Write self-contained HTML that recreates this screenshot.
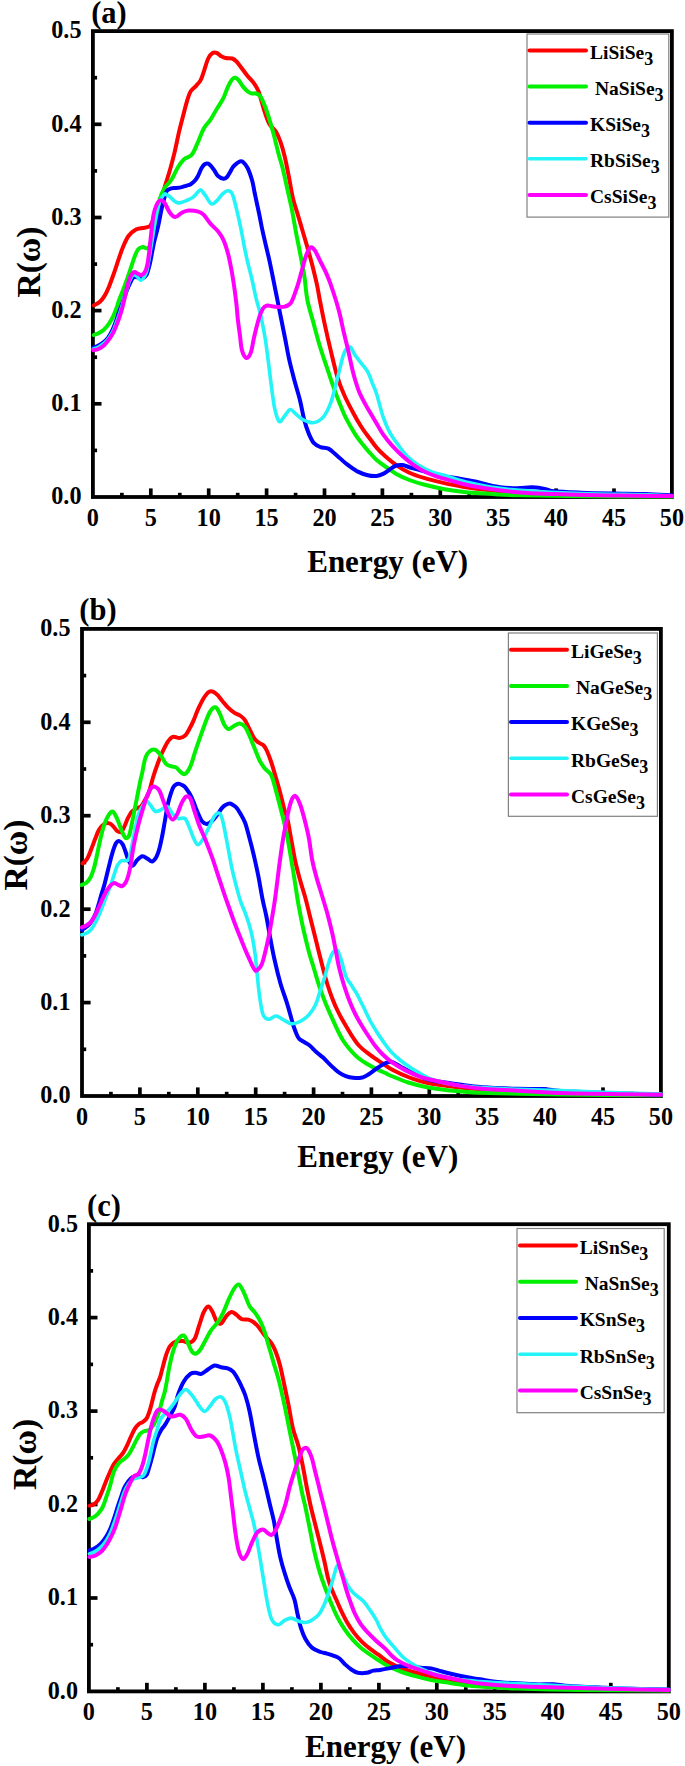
<!DOCTYPE html>
<html><head><meta charset="utf-8"><style>
html,body{margin:0;padding:0;background:#fff;}
body{width:685px;height:1766px;overflow:hidden;}
svg{display:block;}
text{font-family:"Liberation Serif",serif;font-weight:bold;fill:#000;}
.tk{font-size:24.2px;}
.ti{font-size:31px;}
.rt{font-size:33.5px;}
.pl{font-size:30.5px;}
.lg{font-size:19.5px;}
.sub{font-size:18px;}
</style></head><body>
<svg width="685" height="1766" viewBox="0 0 685 1766">
<rect x="92.9" y="31.1" width="579.0" height="465.9" fill="none" stroke="#000" stroke-width="3.8"/>
<line x1="121.9" y1="497.0" x2="121.9" y2="492.8" stroke="#000" stroke-width="3.7"/>
<line x1="150.8" y1="497.0" x2="150.8" y2="488.4" stroke="#000" stroke-width="3.7"/>
<line x1="179.8" y1="497.0" x2="179.8" y2="492.8" stroke="#000" stroke-width="3.7"/>
<line x1="208.7" y1="497.0" x2="208.7" y2="488.4" stroke="#000" stroke-width="3.7"/>
<line x1="237.7" y1="497.0" x2="237.7" y2="492.8" stroke="#000" stroke-width="3.7"/>
<line x1="266.6" y1="497.0" x2="266.6" y2="488.4" stroke="#000" stroke-width="3.7"/>
<line x1="295.6" y1="497.0" x2="295.6" y2="492.8" stroke="#000" stroke-width="3.7"/>
<line x1="324.5" y1="497.0" x2="324.5" y2="488.4" stroke="#000" stroke-width="3.7"/>
<line x1="353.5" y1="497.0" x2="353.5" y2="492.8" stroke="#000" stroke-width="3.7"/>
<line x1="382.4" y1="497.0" x2="382.4" y2="488.4" stroke="#000" stroke-width="3.7"/>
<line x1="411.4" y1="497.0" x2="411.4" y2="492.8" stroke="#000" stroke-width="3.7"/>
<line x1="440.3" y1="497.0" x2="440.3" y2="488.4" stroke="#000" stroke-width="3.7"/>
<line x1="469.2" y1="497.0" x2="469.2" y2="492.8" stroke="#000" stroke-width="3.7"/>
<line x1="498.2" y1="497.0" x2="498.2" y2="488.4" stroke="#000" stroke-width="3.7"/>
<line x1="527.1" y1="497.0" x2="527.1" y2="492.8" stroke="#000" stroke-width="3.7"/>
<line x1="556.1" y1="497.0" x2="556.1" y2="488.4" stroke="#000" stroke-width="3.7"/>
<line x1="585.0" y1="497.0" x2="585.0" y2="492.8" stroke="#000" stroke-width="3.7"/>
<line x1="614.0" y1="497.0" x2="614.0" y2="488.4" stroke="#000" stroke-width="3.7"/>
<line x1="642.9" y1="497.0" x2="642.9" y2="492.8" stroke="#000" stroke-width="3.7"/>
<line x1="92.9" y1="450.4" x2="97.1" y2="450.4" stroke="#000" stroke-width="3.7"/>
<line x1="92.9" y1="403.8" x2="101.5" y2="403.8" stroke="#000" stroke-width="3.7"/>
<line x1="92.9" y1="357.2" x2="97.1" y2="357.2" stroke="#000" stroke-width="3.7"/>
<line x1="92.9" y1="310.6" x2="101.5" y2="310.6" stroke="#000" stroke-width="3.7"/>
<line x1="92.9" y1="264.1" x2="97.1" y2="264.1" stroke="#000" stroke-width="3.7"/>
<line x1="92.9" y1="217.5" x2="101.5" y2="217.5" stroke="#000" stroke-width="3.7"/>
<line x1="92.9" y1="170.9" x2="97.1" y2="170.9" stroke="#000" stroke-width="3.7"/>
<line x1="92.9" y1="124.3" x2="101.5" y2="124.3" stroke="#000" stroke-width="3.7"/>
<line x1="92.9" y1="77.7" x2="97.1" y2="77.7" stroke="#000" stroke-width="3.7"/>
<clipPath id="clipa"><rect x="90.9" y="31.1" width="583.0" height="467.4"/></clipPath>
<g clip-path="url(#clipa)" fill="none" stroke-linejoin="round" stroke-linecap="round">
<path d="M93.8,305.4 C94.8,304.8 97.9,303.4 99.7,301.9 C101.5,300.3 102.9,298.6 104.4,296.1 C106.0,293.6 107.5,290.4 109.0,286.7 C110.5,283.0 112.1,278.4 113.7,273.9 C115.3,269.4 116.9,264.4 118.4,259.9 C120.0,255.4 121.3,251.0 123.0,247.0 C124.7,243.0 126.4,238.9 128.5,236.0 C130.6,233.1 133.2,231.0 135.5,229.7 C137.8,228.4 140.6,228.4 142.6,228.0 C144.6,227.6 146.2,227.5 147.5,227.0 C148.8,226.5 149.2,227.5 150.6,225.2 C152.0,222.9 154.3,217.4 156.0,213.0 C157.7,208.6 159.3,204.0 161.0,199.0 C162.7,194.0 164.3,188.3 165.9,183.1 C167.5,177.9 169.1,173.1 170.5,168.0 C171.9,162.9 173.1,158.4 174.5,152.6 C175.9,146.8 177.4,139.1 178.8,132.9 C180.2,126.7 181.8,120.9 183.2,115.4 C184.6,109.9 186.1,104.1 187.3,100.1 C188.6,96.1 189.2,93.7 190.7,91.3 C192.2,88.9 194.5,87.6 196.1,85.8 C197.7,84.0 199.2,82.8 200.5,80.4 C201.8,78.0 202.5,75.2 203.8,71.6 C205.1,67.9 206.7,61.6 208.2,58.5 C209.7,55.4 211.1,53.9 212.6,53.0 C214.1,52.1 215.4,52.5 216.9,53.0 C218.4,53.5 219.8,55.5 221.3,56.3 C222.8,57.1 223.9,57.6 225.7,58.0 C227.5,58.4 230.5,57.9 232.3,58.5 C234.1,59.1 235.2,60.2 236.6,61.7 C238.0,63.2 239.2,64.8 241.0,67.2 C242.8,69.6 245.4,73.3 247.6,76.0 C249.8,78.7 252.4,81.0 254.2,83.6 C256.0,86.1 257.2,88.2 258.5,91.3 C259.8,94.4 260.7,98.6 261.8,102.3 C262.9,106.0 263.8,109.5 265.1,113.2 C266.4,116.9 267.7,121.1 269.5,124.2 C271.3,127.3 274.2,128.9 276.0,131.8 C277.8,134.7 278.9,137.5 280.4,141.7 C281.9,145.9 283.4,151.2 284.8,157.0 C286.2,162.8 287.4,169.3 288.8,176.3 C290.2,183.3 291.5,192.4 293.1,199.0 C294.7,205.6 296.5,210.2 298.2,216.0 C299.9,221.8 301.8,228.1 303.4,233.7 C305.0,239.3 306.5,244.1 308.0,249.5 C309.5,254.9 311.0,259.9 312.5,266.0 C314.0,272.1 316.0,280.1 317.2,285.8 C318.4,291.5 318.6,294.0 319.8,300.0 C321.0,306.0 322.4,313.5 324.2,321.9 C326.0,330.3 328.5,341.3 330.7,350.4 C332.9,359.5 335.1,369.3 337.3,376.6 C339.5,383.9 341.3,388.4 343.9,394.2 C346.4,400.0 349.7,406.2 352.6,411.7 C355.5,417.2 358.5,422.4 361.4,427.0 C364.3,431.6 367.6,435.6 370.1,439.0 C372.6,442.4 374.1,444.7 376.6,447.6 C379.1,450.5 382.0,453.4 385.3,456.3 C388.6,459.2 392.3,462.4 396.3,465.1 C400.3,467.9 404.7,470.6 409.4,472.8 C414.1,475.0 419.2,476.6 424.7,478.2 C430.2,479.8 435.7,481.1 442.3,482.6 C448.9,484.1 456.2,485.7 464.2,487.0 C472.2,488.3 481.1,489.4 490.4,490.3 C499.7,491.2 508.4,491.9 520.0,492.5 C531.6,493.1 546.7,493.6 560.0,494.0 C573.3,494.4 586.7,494.8 600.0,495.0 C613.3,495.2 628.0,495.3 640.0,495.5 C652.0,495.7 666.7,495.9 672.0,496.0" stroke="#ff0000" stroke-width="4.0"/>
<path d="M93.7,335.0 C94.5,334.7 96.8,334.2 98.5,333.3 C100.2,332.4 102.0,331.4 103.8,329.8 C105.5,328.2 107.4,325.9 109.0,323.6 C110.6,321.3 112.1,318.6 113.4,315.8 C114.7,313.0 116.0,309.6 116.9,307.0 C117.9,304.4 118.1,302.8 119.1,300.0 C120.1,297.2 121.6,294.0 123.0,290.2 C124.4,286.4 126.3,281.3 127.7,277.4 C129.1,273.5 130.0,270.4 131.2,266.9 C132.4,263.4 133.5,259.3 134.7,256.4 C135.9,253.5 136.8,250.9 138.2,249.3 C139.6,247.7 141.5,247.2 142.9,247.0 C144.3,246.8 145.2,248.5 146.4,248.2 C147.6,247.9 148.6,248.9 150.0,245.0 C151.4,241.1 153.4,232.7 155.0,225.0 C156.6,217.3 158.1,205.2 159.8,198.9 C161.5,192.7 163.4,190.3 165.0,187.5 C166.6,184.7 168.1,184.1 169.4,182.3 C170.7,180.6 171.7,179.4 173.0,177.0 C174.3,174.6 175.7,171.0 177.5,168.0 C179.3,165.0 181.7,161.4 184.1,159.2 C186.5,157.0 189.5,157.4 191.7,154.8 C193.9,152.2 195.2,148.3 197.2,143.9 C199.2,139.5 201.6,132.5 203.8,128.5 C206.0,124.5 208.2,123.1 210.4,119.8 C212.6,116.5 214.7,112.4 216.9,108.8 C219.1,105.2 221.7,101.6 223.5,97.9 C225.3,94.2 226.4,90.0 227.9,86.9 C229.4,83.8 231.0,80.8 232.3,79.3 C233.6,77.8 234.4,77.5 235.5,77.7 C236.6,77.9 237.5,78.9 238.8,80.4 C240.1,81.9 241.7,85.1 243.2,86.9 C244.7,88.7 246.1,90.2 247.6,91.3 C249.1,92.4 250.6,93.1 252.0,93.5 C253.4,93.9 254.9,93.0 256.3,93.5 C257.8,94.0 259.2,94.6 260.7,96.8 C262.2,99.0 263.6,102.8 265.1,106.6 C266.6,110.4 268.0,115.0 269.5,119.8 C271.0,124.5 272.4,129.6 273.9,135.1 C275.3,140.6 276.8,147.1 278.2,152.6 C279.6,158.1 281.1,162.1 282.6,167.9 C284.1,173.7 285.5,180.9 287.0,187.5 C288.5,194.1 289.9,199.9 291.4,207.2 C292.9,214.5 294.4,223.6 295.8,231.3 C297.2,239.0 298.7,245.5 300.1,253.2 C301.6,260.9 303.3,269.5 304.5,277.3 C305.7,285.1 305.9,292.6 307.4,300.0 C308.8,307.4 311.1,314.2 313.2,321.9 C315.3,329.6 317.6,338.7 319.8,346.0 C322.0,353.3 324.1,359.1 326.3,365.7 C328.5,372.3 330.7,379.2 332.9,385.4 C335.1,391.6 337.3,397.4 339.5,402.9 C341.7,408.4 343.4,413.1 346.0,418.2 C348.6,423.3 351.9,429.0 354.8,433.6 C357.7,438.2 361.1,442.4 363.6,445.6 C366.1,448.8 367.8,450.6 370.0,453.0 C372.2,455.4 374.1,457.8 376.6,460.0 C379.2,462.2 382.0,464.2 385.3,466.5 C388.6,468.8 392.3,471.6 396.3,473.9 C400.3,476.1 404.7,478.2 409.4,480.0 C414.1,481.8 418.9,483.3 424.7,484.8 C430.5,486.3 437.1,487.9 444.4,489.2 C451.7,490.5 460.5,491.7 468.5,492.5 C476.5,493.3 484.0,493.5 492.6,494.0 C501.2,494.5 502.1,494.9 520.0,495.3 C537.9,495.7 574.7,496.2 600.0,496.5 C625.3,496.8 660.0,496.9 672.0,497.0" stroke="#00f000" stroke-width="4.0"/>
<path d="M93.3,347.7 C94.2,347.3 96.8,346.4 98.5,345.5 C100.2,344.6 102.2,343.3 103.8,342.0 C105.4,340.7 106.6,339.7 108.1,337.7 C109.5,335.7 111.2,332.6 112.5,329.8 C113.8,327.0 114.8,324.2 116.0,321.0 C117.2,317.8 118.2,314.0 119.5,310.5 C120.8,307.0 122.2,303.4 123.5,300.0 C124.8,296.6 125.9,292.8 127.0,290.0 C128.1,287.2 128.9,285.3 130.0,283.2 C131.1,281.1 132.1,278.4 133.5,277.4 C134.9,276.4 136.8,277.2 138.2,277.4 C139.6,277.6 140.3,278.9 141.7,278.5 C143.1,278.1 145.0,277.5 146.4,275.0 C147.8,272.5 148.9,267.3 149.9,263.4 C150.9,259.5 151.4,255.6 152.2,251.7 C153.0,247.8 153.6,244.1 154.6,240.0 C155.6,235.9 156.8,232.0 158.0,226.9 C159.2,221.8 160.5,214.1 161.5,209.4 C162.5,204.7 163.2,202.0 164.1,198.9 C165.0,195.8 165.6,192.8 166.8,191.0 C168.0,189.2 169.7,188.9 171.2,188.4 C172.7,187.9 174.2,188.2 176.0,188.0 C177.8,187.8 180.2,187.5 181.9,187.1 C183.6,186.7 184.5,186.3 186.0,185.8 C187.5,185.3 189.2,185.1 190.7,184.2 C192.2,183.3 193.8,181.9 195.0,180.5 C196.2,179.1 196.9,178.1 198.0,176.0 C199.1,173.9 200.4,170.0 201.6,168.0 C202.8,166.0 203.9,164.7 205.0,164.0 C206.1,163.3 207.2,163.3 208.2,163.6 C209.2,163.9 209.9,164.8 211.0,166.0 C212.1,167.2 213.5,169.3 214.7,171.0 C215.9,172.7 216.5,174.7 218.0,176.0 C219.5,177.3 222.0,178.6 223.5,178.8 C225.0,179.0 225.9,178.1 227.0,177.0 C228.1,175.9 229.0,174.0 230.0,172.3 C231.0,170.6 231.9,168.4 233.0,167.0 C234.1,165.6 235.4,164.5 236.6,163.6 C237.8,162.7 238.9,161.7 240.0,161.4 C241.1,161.1 241.7,160.9 243.0,162.0 C244.3,163.1 246.1,165.0 247.6,168.0 C249.1,171.0 250.8,176.0 252.0,180.0 C253.2,184.0 253.8,188.5 254.5,192.0 C255.2,195.5 255.6,197.1 256.4,201.0 C257.2,204.9 258.5,210.6 259.5,215.5 C260.5,220.4 261.4,225.6 262.5,230.7 C263.6,235.8 264.8,240.9 266.0,246.0 C267.2,251.1 268.5,256.2 269.6,261.3 C270.7,266.4 271.7,271.4 272.7,276.5 C273.7,281.6 274.9,287.3 275.8,292.0 C276.8,296.7 277.5,300.6 278.4,304.8 C279.2,309.1 279.8,312.0 280.9,317.5 C282.0,323.0 283.6,331.1 285.0,338.0 C286.4,344.9 287.5,351.9 289.1,359.1 C290.7,366.3 292.8,374.1 294.6,381.0 C296.4,387.9 298.5,394.1 300.1,400.7 C301.7,407.3 302.9,414.9 304.4,420.4 C305.8,425.9 307.2,429.8 308.8,433.6 C310.4,437.4 311.9,440.9 313.9,443.1 C315.8,445.4 318.1,446.2 320.5,447.1 C322.9,448.0 325.8,447.3 328.4,448.6 C331.0,449.9 333.2,452.4 336.3,455.0 C339.4,457.6 343.3,461.5 346.8,464.2 C350.3,466.9 353.8,469.5 357.3,471.4 C360.8,473.2 364.6,474.5 367.8,475.3 C371.0,476.1 374.1,476.2 376.6,476.0 C379.2,475.8 380.9,475.0 383.1,473.9 C385.3,472.8 387.5,470.9 389.7,469.5 C391.9,468.1 394.1,466.2 396.3,465.5 C398.5,464.8 400.6,464.8 402.8,465.1 C405.0,465.4 406.8,466.6 409.4,467.3 C412.0,468.0 414.9,468.6 418.2,469.5 C421.5,470.4 425.5,471.8 429.1,472.8 C432.8,473.8 435.4,474.7 440.1,475.6 C444.9,476.5 451.8,477.2 457.6,478.2 C463.4,479.2 469.3,480.2 475.1,481.5 C480.9,482.8 486.8,484.8 492.6,485.9 C498.4,487.0 505.5,487.7 510.1,488.1 C514.7,488.5 516.3,488.2 520.0,488.1 C523.7,488.0 528.1,487.1 532.4,487.3 C536.7,487.5 542.3,488.4 545.9,489.1 C549.5,489.8 548.1,490.7 554.0,491.3 C559.9,491.9 571.1,492.3 581.0,492.7 C590.9,493.1 602.6,493.3 613.4,493.5 C624.2,493.7 636.0,493.7 645.8,494.0 C655.6,494.3 667.6,495.2 672.0,495.4" stroke="#0000ff" stroke-width="4.0"/>
<path d="M93.3,349.0 C94.2,348.7 96.8,347.9 98.5,347.0 C100.2,346.1 102.1,344.9 103.8,343.5 C105.5,342.1 107.0,340.6 108.5,338.5 C110.0,336.4 111.6,333.8 113.0,331.0 C114.4,328.2 115.5,324.9 116.8,321.5 C118.0,318.1 119.3,314.6 120.5,310.8 C121.7,307.1 122.8,303.0 124.0,299.0 C125.2,295.0 126.4,290.3 127.5,287.0 C128.6,283.7 129.4,281.1 130.5,279.0 C131.6,276.9 132.6,274.8 133.8,274.5 C135.0,274.2 136.4,276.0 137.5,277.0 C138.6,278.0 139.6,280.1 140.6,280.3 C141.6,280.5 142.5,279.4 143.5,278.0 C144.5,276.6 145.6,274.8 146.5,272.0 C147.4,269.2 148.0,264.7 148.7,261.0 C149.4,257.3 149.9,253.8 150.5,250.0 C151.1,246.2 151.8,242.7 152.5,238.0 C153.2,233.3 154.1,227.2 155.0,222.0 C155.9,216.8 157.0,210.8 158.0,207.0 C159.0,203.2 159.9,201.2 161.0,199.0 C162.1,196.8 163.4,194.8 164.4,194.1 C165.4,193.4 166.2,194.6 167.0,195.0 C167.8,195.4 168.3,195.4 169.4,196.3 C170.5,197.2 172.5,199.5 173.8,200.6 C175.2,201.7 176.3,202.5 177.5,202.8 C178.7,203.1 179.5,202.8 181.0,202.5 C182.5,202.2 184.3,201.5 186.3,200.7 C188.3,199.8 191.0,198.7 192.8,197.4 C194.6,196.1 195.7,194.3 197.0,193.0 C198.3,191.7 199.4,189.7 200.5,189.7 C201.6,189.7 202.6,191.9 203.5,193.0 C204.4,194.1 204.7,194.5 206.0,196.3 C207.3,198.1 209.7,203.2 211.5,203.9 C213.3,204.6 215.1,202.3 216.9,200.7 C218.7,199.1 220.6,195.8 222.4,194.1 C224.2,192.4 226.2,190.8 227.9,190.8 C229.6,190.8 230.9,191.0 232.3,194.1 C233.8,197.2 235.2,203.6 236.6,209.4 C238.0,215.2 239.7,222.9 241.0,229.1 C242.3,235.3 243.2,241.1 244.3,246.6 C245.4,252.1 246.3,256.5 247.6,262.0 C248.9,267.5 250.6,273.3 252.0,279.5 C253.4,285.7 254.9,293.2 256.3,299.2 C257.8,305.2 259.2,309.0 260.7,315.3 C262.1,321.6 263.7,329.5 265.0,337.2 C266.3,344.9 267.2,352.9 268.3,361.3 C269.4,369.7 270.5,379.6 271.6,387.6 C272.7,395.6 273.6,403.9 274.9,409.5 C276.2,415.1 277.7,420.4 279.3,421.5 C280.9,422.6 282.9,418.0 284.7,416.0 C286.5,414.0 288.4,409.9 290.2,409.5 C292.0,409.1 293.7,412.3 295.7,413.9 C297.7,415.5 299.8,417.9 302.3,419.3 C304.9,420.8 308.4,422.2 311.0,422.6 C313.6,423.0 315.4,422.6 317.6,421.5 C319.8,420.4 322.0,419.1 324.2,416.0 C326.4,412.9 328.9,407.6 330.7,402.9 C332.5,398.2 333.6,393.1 335.1,387.6 C336.6,382.1 338.2,375.2 339.5,370.1 C340.8,365.0 341.7,360.4 342.8,356.9 C343.9,353.4 344.7,350.9 346.0,349.3 C347.3,347.7 348.9,346.2 350.4,347.1 C351.9,348.0 353.0,352.0 354.8,354.7 C356.6,357.4 359.2,360.6 361.4,363.5 C363.6,366.4 366.2,369.0 368.0,372.3 C369.8,375.6 370.9,379.6 372.3,383.2 C373.8,386.8 374.9,388.6 376.7,394.2 C378.5,399.8 380.9,410.5 383.1,416.9 C385.3,423.2 387.1,427.6 389.7,432.3 C392.3,437.1 395.6,441.4 398.5,445.4 C401.4,449.4 403.9,453.0 407.2,456.3 C410.5,459.6 414.2,462.5 418.2,465.1 C422.2,467.7 426.6,469.9 431.3,471.7 C436.0,473.5 440.4,474.2 446.6,476.0 C452.8,477.8 461.2,480.8 468.5,482.6 C475.8,484.4 481.8,485.7 490.4,487.0 C499.0,488.3 504.9,489.2 520.0,490.3 C535.1,491.4 559.6,492.8 581.0,493.5 C602.4,494.2 633.3,494.4 648.5,494.8 C663.7,495.2 668.1,495.7 672.0,495.9" stroke="#22f4f8" stroke-width="3.6"/>
<path d="M93.3,350.3 C94.2,350.1 96.8,349.8 98.5,349.0 C100.2,348.2 102.0,347.1 103.8,345.5 C105.5,343.9 107.4,341.6 109.0,339.4 C110.6,337.2 111.9,335.3 113.4,332.4 C114.9,329.5 116.5,325.4 117.8,321.9 C119.1,318.4 120.2,315.0 121.3,311.4 C122.4,307.8 123.3,303.9 124.2,300.0 C125.1,296.1 125.8,291.8 126.8,288.0 C127.8,284.2 128.8,280.1 130.0,277.5 C131.2,274.9 132.7,272.7 134.1,272.1 C135.5,271.5 136.9,273.4 138.2,273.9 C139.5,274.4 140.5,275.4 141.7,275.0 C142.9,274.6 144.2,273.4 145.2,271.5 C146.2,269.6 146.9,266.7 147.6,263.4 C148.3,260.1 148.7,255.6 149.2,251.7 C149.7,247.8 150.1,243.9 150.5,240.0 C150.9,236.1 151.3,232.2 151.8,228.0 C152.3,223.8 152.8,218.3 153.6,214.5 C154.4,210.7 155.4,207.3 156.5,205.0 C157.6,202.7 159.0,200.8 160.3,200.4 C161.6,200.0 162.8,200.8 164.4,202.8 C166.0,204.9 168.1,210.3 169.9,212.7 C171.7,215.1 173.3,217.1 175.3,217.1 C177.3,217.1 179.7,213.8 181.9,212.7 C184.1,211.6 185.8,210.7 188.5,210.5 C191.2,210.3 195.8,210.9 198.3,211.6 C200.9,212.3 201.8,212.9 203.8,214.9 C205.8,216.9 208.0,220.9 210.4,223.6 C212.8,226.3 215.8,228.6 218.0,231.3 C220.2,234.1 221.8,236.4 223.5,240.1 C225.2,243.8 226.6,248.5 227.9,253.2 C229.2,257.9 230.1,262.7 231.2,268.5 C232.3,274.3 233.5,282.0 234.4,288.2 C235.3,294.4 236.0,300.5 236.6,305.8 C237.2,311.1 237.3,315.1 237.9,320.0 C238.5,324.9 239.2,329.9 239.9,335.0 C240.6,340.1 240.9,346.6 242.0,350.4 C243.1,354.2 244.9,357.6 246.4,358.0 C247.9,358.4 249.5,356.1 250.8,352.6 C252.1,349.1 252.8,342.7 254.1,337.2 C255.4,331.7 257.1,324.4 258.5,319.7 C259.9,315.0 261.4,311.2 262.8,308.8 C264.2,306.4 265.4,305.9 267.2,305.5 C269.0,305.1 270.9,306.4 273.8,306.6 C276.7,306.8 281.8,307.3 284.7,306.6 C287.6,305.9 289.2,305.7 291.3,302.2 C293.4,298.7 295.7,291.1 297.5,285.8 C299.3,280.5 300.4,275.5 301.9,270.4 C303.4,265.3 304.8,258.9 306.3,255.1 C307.8,251.3 309.2,248.1 310.7,247.4 C312.1,246.7 313.4,248.3 315.0,250.7 C316.6,253.1 318.7,258.0 320.5,261.7 C322.3,265.4 324.4,269.0 326.0,272.6 C327.6,276.2 328.8,279.0 330.4,283.6 C332.0,288.2 334.3,295.1 335.8,300.0 C337.3,304.9 338.1,307.6 339.5,313.1 C340.9,318.6 342.4,326.6 343.9,332.8 C345.3,339.0 346.9,344.9 348.2,350.4 C349.5,355.9 350.4,361.0 351.5,365.7 C352.6,370.4 353.5,374.4 354.8,378.8 C356.1,383.2 357.4,387.6 359.2,392.0 C361.0,396.4 363.8,401.4 365.8,405.1 C367.8,408.8 369.2,410.9 371.0,414.0 C372.8,417.1 374.6,420.1 376.6,423.5 C378.6,426.9 380.6,430.8 383.1,434.4 C385.7,438.0 388.6,441.8 391.9,445.4 C395.2,449.0 399.1,453.0 402.8,456.3 C406.5,459.6 409.8,462.4 413.8,465.1 C417.8,467.9 422.1,470.6 426.9,472.8 C431.6,475.0 436.4,476.4 442.3,478.2 C448.2,480.0 455.1,482.0 462.0,483.7 C468.9,485.4 474.2,486.6 483.9,488.1 C493.6,489.6 508.3,491.5 520.0,492.5 C531.7,493.5 539.3,493.5 554.0,494.0 C568.7,494.5 591.3,495.1 608.0,495.4 C624.7,495.7 643.3,495.8 654.0,495.9 C664.7,496.0 669.0,496.0 672.0,496.0" stroke="#ff00ff" stroke-width="4.0"/>
</g>
<rect x="527.0" y="34.0" width="141.8" height="183.1" fill="#fff" stroke="#808080" stroke-width="1.2"/>
<line x1="529.5" y1="50.5" x2="586.0" y2="50.5" stroke="#ff0000" stroke-width="4.0" stroke-linecap="round"/>
<text x="590.0" y="58.8" class="lg">LiSiSe<tspan class="sub" dy="6">3</tspan></text>
<line x1="529.5" y1="86.6" x2="586.0" y2="86.6" stroke="#00f000" stroke-width="4.0" stroke-linecap="round"/>
<text x="595.0" y="94.9" class="lg">NaSiSe<tspan class="sub" dy="6">3</tspan></text>
<line x1="529.5" y1="122.7" x2="586.0" y2="122.7" stroke="#0000ff" stroke-width="4.0" stroke-linecap="round"/>
<text x="590.0" y="131.0" class="lg">KSiSe<tspan class="sub" dy="6">3</tspan></text>
<line x1="529.5" y1="158.8" x2="586.0" y2="158.8" stroke="#22f4f8" stroke-width="3.6" stroke-linecap="round"/>
<text x="590.0" y="167.1" class="lg">RbSiSe<tspan class="sub" dy="6">3</tspan></text>
<line x1="529.5" y1="194.9" x2="586.0" y2="194.9" stroke="#ff00ff" stroke-width="4.0" stroke-linecap="round"/>
<text x="590.0" y="203.2" class="lg">CsSiSe<tspan class="sub" dy="6">3</tspan></text>
<text x="92.9" y="525.8" class="tk" text-anchor="middle">0</text>
<text x="150.8" y="525.8" class="tk" text-anchor="middle">5</text>
<text x="208.7" y="525.8" class="tk" text-anchor="middle">10</text>
<text x="266.6" y="525.8" class="tk" text-anchor="middle">15</text>
<text x="324.5" y="525.8" class="tk" text-anchor="middle">20</text>
<text x="382.4" y="525.8" class="tk" text-anchor="middle">25</text>
<text x="440.3" y="525.8" class="tk" text-anchor="middle">30</text>
<text x="498.2" y="525.8" class="tk" text-anchor="middle">35</text>
<text x="556.1" y="525.8" class="tk" text-anchor="middle">40</text>
<text x="614.0" y="525.8" class="tk" text-anchor="middle">45</text>
<text x="671.9" y="525.8" class="tk" text-anchor="middle">50</text>
<text x="81.5" y="504.3" class="tk" text-anchor="end">0.0</text>
<text x="81.5" y="411.1" class="tk" text-anchor="end">0.1</text>
<text x="81.5" y="317.9" class="tk" text-anchor="end">0.2</text>
<text x="81.5" y="224.8" class="tk" text-anchor="end">0.3</text>
<text x="81.5" y="131.6" class="tk" text-anchor="end">0.4</text>
<text x="81.5" y="38.4" class="tk" text-anchor="end">0.5</text>
<text x="387.7" y="571.8" class="ti" text-anchor="middle">Energy (eV)</text>
<text class="rt" text-anchor="middle" transform="translate(39.5,262.0) rotate(-90)">R(&#969;)</text>
<text x="91.2" y="22.5" class="pl">(a)</text>
<rect x="82.0" y="628.9" width="578.9" height="467.1" fill="none" stroke="#000" stroke-width="3.8"/>
<line x1="110.9" y1="1096.0" x2="110.9" y2="1091.8" stroke="#000" stroke-width="3.7"/>
<line x1="139.9" y1="1096.0" x2="139.9" y2="1087.4" stroke="#000" stroke-width="3.7"/>
<line x1="168.8" y1="1096.0" x2="168.8" y2="1091.8" stroke="#000" stroke-width="3.7"/>
<line x1="197.8" y1="1096.0" x2="197.8" y2="1087.4" stroke="#000" stroke-width="3.7"/>
<line x1="226.7" y1="1096.0" x2="226.7" y2="1091.8" stroke="#000" stroke-width="3.7"/>
<line x1="255.7" y1="1096.0" x2="255.7" y2="1087.4" stroke="#000" stroke-width="3.7"/>
<line x1="284.6" y1="1096.0" x2="284.6" y2="1091.8" stroke="#000" stroke-width="3.7"/>
<line x1="313.6" y1="1096.0" x2="313.6" y2="1087.4" stroke="#000" stroke-width="3.7"/>
<line x1="342.5" y1="1096.0" x2="342.5" y2="1091.8" stroke="#000" stroke-width="3.7"/>
<line x1="371.4" y1="1096.0" x2="371.4" y2="1087.4" stroke="#000" stroke-width="3.7"/>
<line x1="400.4" y1="1096.0" x2="400.4" y2="1091.8" stroke="#000" stroke-width="3.7"/>
<line x1="429.3" y1="1096.0" x2="429.3" y2="1087.4" stroke="#000" stroke-width="3.7"/>
<line x1="458.3" y1="1096.0" x2="458.3" y2="1091.8" stroke="#000" stroke-width="3.7"/>
<line x1="487.2" y1="1096.0" x2="487.2" y2="1087.4" stroke="#000" stroke-width="3.7"/>
<line x1="516.2" y1="1096.0" x2="516.2" y2="1091.8" stroke="#000" stroke-width="3.7"/>
<line x1="545.1" y1="1096.0" x2="545.1" y2="1087.4" stroke="#000" stroke-width="3.7"/>
<line x1="574.1" y1="1096.0" x2="574.1" y2="1091.8" stroke="#000" stroke-width="3.7"/>
<line x1="603.0" y1="1096.0" x2="603.0" y2="1087.4" stroke="#000" stroke-width="3.7"/>
<line x1="632.0" y1="1096.0" x2="632.0" y2="1091.8" stroke="#000" stroke-width="3.7"/>
<line x1="82.0" y1="1049.3" x2="86.2" y2="1049.3" stroke="#000" stroke-width="3.7"/>
<line x1="82.0" y1="1002.6" x2="90.6" y2="1002.6" stroke="#000" stroke-width="3.7"/>
<line x1="82.0" y1="955.9" x2="86.2" y2="955.9" stroke="#000" stroke-width="3.7"/>
<line x1="82.0" y1="909.2" x2="90.6" y2="909.2" stroke="#000" stroke-width="3.7"/>
<line x1="82.0" y1="862.5" x2="86.2" y2="862.5" stroke="#000" stroke-width="3.7"/>
<line x1="82.0" y1="815.7" x2="90.6" y2="815.7" stroke="#000" stroke-width="3.7"/>
<line x1="82.0" y1="769.0" x2="86.2" y2="769.0" stroke="#000" stroke-width="3.7"/>
<line x1="82.0" y1="722.3" x2="90.6" y2="722.3" stroke="#000" stroke-width="3.7"/>
<line x1="82.0" y1="675.6" x2="86.2" y2="675.6" stroke="#000" stroke-width="3.7"/>
<clipPath id="clipb"><rect x="80.0" y="628.9" width="582.9" height="468.6"/></clipPath>
<g clip-path="url(#clipb)" fill="none" stroke-linejoin="round" stroke-linecap="round">
<path d="M82.6,863.4 C83.4,862.6 85.8,861.1 87.2,858.8 C88.6,856.5 89.8,852.9 91.1,849.6 C92.4,846.3 93.8,842.4 95.1,839.1 C96.4,835.8 97.5,832.4 99.0,829.9 C100.5,827.4 102.5,825.1 104.3,824.0 C106.0,822.9 108.0,823.0 109.5,823.4 C111.0,823.8 112.2,825.3 113.5,826.6 C114.8,827.9 116.1,830.3 117.4,831.2 C118.7,832.1 120.2,832.8 121.4,831.9 C122.6,831.0 123.5,828.3 124.6,826.0 C125.7,823.7 126.7,820.5 127.9,818.1 C129.1,815.7 130.4,813.1 131.9,811.5 C133.4,809.9 135.6,809.1 137.1,808.2 C138.6,807.3 139.8,807.7 141.1,806.3 C142.4,804.9 143.7,802.3 145.0,800.0 C146.3,797.7 147.5,796.4 148.8,792.6 C150.2,788.8 151.7,782.0 153.1,777.3 C154.5,772.6 156.0,768.2 157.5,764.2 C159.0,760.2 160.2,756.9 161.9,753.2 C163.6,749.6 165.6,745.0 167.4,742.3 C169.2,739.6 170.8,737.5 172.8,736.8 C174.8,736.1 177.4,738.1 179.4,737.9 C181.4,737.7 183.2,737.2 184.9,735.7 C186.6,734.2 187.9,731.7 189.3,729.1 C190.8,726.5 192.2,723.7 193.6,720.4 C195.0,717.1 196.3,713.0 198.0,709.4 C199.7,705.8 201.7,701.4 203.5,698.5 C205.3,695.6 207.3,693.0 209.0,691.9 C210.7,690.8 212.0,691.3 213.4,691.9 C214.8,692.5 216.2,693.7 217.7,695.2 C219.1,696.7 220.4,698.7 222.1,700.7 C223.8,702.7 225.6,705.2 227.6,707.2 C229.6,709.2 232.0,711.2 234.2,712.7 C236.4,714.2 238.9,714.7 240.7,716.0 C242.5,717.3 243.6,718.2 245.1,720.4 C246.6,722.6 248.0,726.2 249.5,729.1 C251.0,732.0 252.5,735.7 253.9,737.9 C255.3,740.1 256.6,741.0 258.2,742.3 C259.8,743.6 262.2,744.0 263.7,745.5 C265.2,747.0 265.8,748.2 267.0,751.0 C268.2,753.8 269.7,757.6 271.2,762.0 C272.7,766.4 274.3,772.2 275.8,777.3 C277.3,782.4 278.7,787.1 280.1,792.6 C281.6,798.1 283.3,805.7 284.5,810.1 C285.7,814.5 286.3,814.0 287.5,819.1 C288.7,824.2 290.2,834.2 291.5,841.0 C292.8,847.8 293.7,853.8 295.0,860.0 C296.3,866.2 297.9,872.1 299.5,878.1 C301.1,884.1 303.2,890.2 304.9,896.3 C306.6,902.3 308.0,908.4 309.5,914.4 C311.0,920.4 312.5,926.5 314.0,932.5 C315.5,938.5 317.0,944.7 318.5,950.7 C320.0,956.8 321.6,963.1 323.1,968.8 C324.6,974.5 326.0,980.0 327.6,985.0 C329.2,990.0 330.9,994.8 332.5,999.0 C334.1,1003.2 335.8,1007.0 337.5,1010.5 C339.2,1014.0 340.8,1017.0 342.5,1020.0 C344.2,1023.0 345.8,1025.6 347.5,1028.5 C349.2,1031.4 351.1,1034.7 353.0,1037.5 C354.9,1040.3 356.6,1043.0 358.9,1045.5 C361.2,1048.0 363.9,1050.1 366.8,1052.4 C369.7,1054.7 373.5,1057.4 376.4,1059.4 C379.3,1061.4 381.6,1062.7 384.3,1064.5 C387.0,1066.3 388.8,1067.9 392.8,1070.0 C396.8,1072.1 402.7,1074.9 408.2,1077.0 C413.7,1079.1 419.1,1081.1 425.7,1082.6 C432.3,1084.1 439.6,1084.9 447.6,1085.9 C455.6,1086.9 463.5,1087.9 473.9,1088.7 C484.3,1089.5 495.6,1090.3 510.0,1090.9 C524.4,1091.5 543.3,1092.1 560.0,1092.5 C576.7,1092.9 593.2,1093.2 610.0,1093.5 C626.8,1093.8 652.5,1094.3 661.0,1094.5" stroke="#ff0000" stroke-width="4.0"/>
<path d="M81.5,885.0 C82.2,884.7 84.5,884.2 86.0,883.0 C87.5,881.8 89.2,880.0 90.5,877.5 C91.8,875.0 92.9,871.8 94.0,868.0 C95.1,864.2 96.1,859.1 97.0,855.0 C97.9,850.9 98.5,847.5 99.5,843.1 C100.5,838.7 101.8,832.8 103.0,828.6 C104.2,824.4 105.6,820.8 106.9,818.1 C108.2,815.4 109.7,813.2 110.8,812.2 C111.9,811.2 112.4,811.0 113.5,812.2 C114.6,813.4 116.1,816.5 117.4,819.4 C118.7,822.3 120.1,826.8 121.4,829.9 C122.7,833.0 124.1,836.7 125.3,837.8 C126.5,838.9 127.7,837.8 128.6,836.5 C129.5,835.2 129.8,833.2 130.6,829.9 C131.4,826.6 132.3,821.2 133.2,816.8 C134.1,812.4 134.9,808.0 135.8,803.6 C136.7,799.2 137.6,794.4 138.4,790.5 C139.2,786.6 139.9,782.9 140.5,780.0 C141.1,777.1 141.4,776.6 142.2,772.9 C143.0,769.2 144.2,761.2 145.5,757.6 C146.8,754.0 148.3,752.3 149.9,751.0 C151.5,749.7 153.5,749.2 155.3,749.9 C157.1,750.6 159.0,753.0 160.8,755.4 C162.6,757.8 164.5,762.4 166.3,764.2 C168.1,766.0 170.1,765.8 171.7,766.3 C173.3,766.8 174.6,766.5 176.1,767.4 C177.6,768.3 179.0,770.7 180.5,771.8 C182.0,772.9 183.2,774.9 184.9,774.0 C186.6,773.1 188.8,769.8 190.4,766.3 C192.0,762.8 193.2,757.6 194.7,753.2 C196.1,748.8 197.4,744.9 199.1,740.1 C200.8,735.4 202.8,729.5 204.6,724.7 C206.4,720.0 208.3,714.5 210.1,711.6 C211.9,708.7 213.9,706.8 215.5,707.2 C217.1,707.6 218.4,710.9 219.9,713.8 C221.4,716.7 222.8,722.2 224.3,724.7 C225.8,727.2 227.0,728.9 228.7,729.1 C230.3,729.3 232.4,726.7 234.2,725.8 C236.0,724.9 237.8,723.4 239.6,723.6 C241.4,723.8 243.4,724.9 245.1,726.9 C246.8,728.9 248.0,732.4 249.5,735.7 C251.0,739.0 252.3,742.6 253.9,746.6 C255.5,750.6 257.5,756.1 259.3,759.8 C261.1,763.4 262.8,766.0 264.8,768.5 C266.8,771.0 269.3,771.2 271.2,775.0 C273.1,778.8 274.4,785.2 276.0,791.0 C277.6,796.8 279.6,804.5 281.0,810.0 C282.4,815.5 283.4,819.3 284.5,824.0 C285.6,828.7 286.4,832.0 287.5,838.0 C288.6,844.0 290.1,852.5 291.3,860.0 C292.6,867.5 293.8,875.2 295.0,882.7 C296.2,890.2 297.2,897.8 298.6,905.3 C300.0,912.8 301.4,920.4 303.1,928.0 C304.8,935.6 306.8,943.9 308.6,950.7 C310.4,957.5 312.2,962.8 314.0,968.8 C315.8,974.8 317.6,981.2 319.5,986.9 C321.4,992.6 323.4,997.8 325.5,1003.0 C327.6,1008.2 329.9,1013.3 332.0,1018.0 C334.1,1022.7 336.1,1027.2 338.0,1031.0 C339.9,1034.8 341.1,1037.4 343.1,1040.5 C345.1,1043.6 347.6,1046.9 350.1,1049.8 C352.6,1052.7 355.2,1055.4 358.0,1057.7 C360.8,1060.0 363.7,1061.9 366.8,1063.8 C369.9,1065.7 373.2,1067.4 376.4,1069.0 C379.6,1070.6 383.3,1072.2 386.0,1073.4 C388.7,1074.7 389.1,1075.0 392.8,1076.5 C396.5,1078.0 402.7,1080.8 408.2,1082.5 C413.7,1084.2 419.1,1085.7 425.7,1087.0 C432.3,1088.3 439.6,1089.4 447.6,1090.3 C455.6,1091.2 463.5,1092.0 473.9,1092.5 C484.3,1093.0 495.6,1093.3 510.0,1093.6 C524.4,1093.9 534.8,1094.2 560.0,1094.5 C585.2,1094.8 644.2,1095.3 661.0,1095.5" stroke="#00f000" stroke-width="4.0"/>
<path d="M82.0,930.0 C82.8,929.4 85.3,927.8 86.8,926.5 C88.3,925.2 89.6,924.1 91.1,922.0 C92.5,919.9 94.2,917.2 95.5,914.0 C96.8,910.8 98.0,906.3 99.0,903.0 C100.0,899.7 100.6,897.0 101.5,894.0 C102.4,891.0 103.2,889.2 104.3,885.1 C105.4,881.0 106.9,874.5 108.2,869.3 C109.5,864.0 110.9,858.0 112.2,853.6 C113.5,849.2 114.9,845.2 116.1,843.1 C117.3,841.0 118.3,840.9 119.4,841.1 C120.5,841.3 121.7,842.8 122.7,844.4 C123.7,846.0 124.4,848.6 125.3,851.0 C126.2,853.4 127.0,856.6 127.9,858.8 C128.8,861.0 129.7,863.0 130.6,864.1 C131.5,865.2 132.1,866.1 133.2,865.4 C134.3,864.7 135.6,861.6 137.1,860.1 C138.6,858.6 140.7,856.4 142.4,856.2 C144.2,856.0 146.0,857.9 147.6,858.8 C149.2,859.7 150.7,861.9 152.2,861.5 C153.7,861.1 155.4,858.7 156.6,856.5 C157.8,854.3 158.6,851.6 159.5,848.3 C160.4,845.0 161.2,840.9 162.1,836.5 C163.0,832.1 163.9,826.4 164.7,822.0 C165.5,817.6 166.1,813.6 166.7,810.2 C167.3,806.8 167.5,805.1 168.5,801.4 C169.5,797.7 171.6,791.0 172.8,788.2 C174.1,785.4 174.9,785.2 176.0,784.5 C177.1,783.8 178.2,783.7 179.4,783.9 C180.6,784.1 181.9,784.8 183.0,785.5 C184.1,786.2 184.6,786.3 186.0,788.2 C187.4,790.1 189.9,793.7 191.5,797.0 C193.1,800.3 194.4,804.4 195.8,807.9 C197.2,811.4 199.1,815.7 200.2,818.0 C201.3,820.3 201.3,820.7 202.4,821.7 C203.5,822.7 205.2,824.1 206.8,823.9 C208.5,823.7 210.5,822.3 212.3,820.7 C214.1,819.1 216.1,816.2 217.7,814.1 C219.3,812.0 220.8,809.4 222.1,807.9 C223.4,806.4 224.2,805.7 225.5,805.0 C226.8,804.3 228.6,803.6 229.8,803.6 C231.1,803.6 231.9,804.4 233.0,805.0 C234.1,805.6 235.0,806.0 236.3,807.5 C237.6,809.0 239.2,811.6 240.7,814.1 C242.2,816.6 243.6,818.8 245.1,822.8 C246.6,826.8 248.0,832.7 249.5,838.2 C251.0,843.7 252.5,849.5 253.9,855.7 C255.3,861.9 256.7,868.0 258.2,875.4 C259.7,882.8 261.3,893.1 262.7,900.0 C264.1,906.9 265.2,910.4 266.5,917.0 C267.8,923.6 269.1,932.0 270.5,939.4 C271.9,946.8 273.2,954.0 274.9,961.3 C276.5,968.6 278.4,976.3 280.4,983.2 C282.4,990.1 285.1,997.1 286.9,1002.9 C288.7,1008.7 290.2,1014.4 291.3,1018.2 C292.4,1022.1 292.6,1023.4 293.5,1026.0 C294.4,1028.6 295.6,1031.8 296.5,1034.0 C297.4,1036.2 297.9,1037.5 299.2,1038.9 C300.5,1040.3 302.8,1041.1 304.5,1042.2 C306.2,1043.3 307.7,1043.9 309.7,1045.5 C311.7,1047.1 314.1,1050.0 316.3,1052.0 C318.5,1054.0 320.8,1055.5 322.8,1057.3 C324.8,1059.1 326.3,1060.8 328.1,1062.6 C329.9,1064.3 331.4,1066.0 333.4,1067.8 C335.4,1069.5 337.7,1071.7 339.9,1073.1 C342.1,1074.5 344.3,1075.6 346.5,1076.4 C348.7,1077.2 350.7,1077.5 353.1,1077.7 C355.5,1077.9 358.8,1078.0 361.0,1077.7 C363.2,1077.4 364.4,1076.6 366.2,1075.7 C367.9,1074.8 369.8,1073.6 371.5,1072.4 C373.2,1071.2 374.9,1069.7 376.7,1068.5 C378.4,1067.3 380.4,1065.9 382.0,1065.0 C383.6,1064.1 384.9,1063.4 386.3,1062.9 C387.8,1062.4 389.1,1061.6 390.7,1061.8 C392.3,1062.0 393.9,1062.9 396.1,1064.0 C398.3,1065.1 400.7,1066.8 403.8,1068.4 C406.9,1070.1 410.3,1072.0 414.7,1073.9 C419.1,1075.8 423.9,1078.4 430.1,1080.0 C436.3,1081.6 444.7,1082.4 452.0,1083.5 C459.3,1084.6 466.6,1085.8 473.9,1086.5 C481.2,1087.2 488.7,1087.6 495.8,1088.0 C502.9,1088.4 508.5,1088.6 516.3,1088.8 C524.1,1089.0 536.8,1088.8 542.5,1089.0 C548.2,1089.2 546.9,1089.4 550.4,1089.8 C553.9,1090.2 556.1,1090.8 563.6,1091.2 C571.1,1091.7 583.3,1092.0 595.1,1092.5 C606.9,1093.0 623.5,1093.5 634.5,1093.9 C645.5,1094.3 656.6,1094.6 661.0,1094.7" stroke="#0000ff" stroke-width="4.0"/>
<path d="M81.9,934.8 C82.7,934.5 85.3,933.9 86.8,933.0 C88.3,932.1 89.6,931.2 91.1,929.5 C92.5,927.8 94.0,925.3 95.5,922.5 C97.0,919.7 98.6,915.9 99.9,912.9 C101.2,909.9 102.2,907.3 103.4,904.2 C104.6,901.1 105.9,897.2 106.9,894.5 C107.9,891.8 108.6,890.3 109.5,888.0 C110.4,885.7 111.3,883.1 112.2,880.5 C113.1,877.9 113.9,875.1 114.8,872.6 C115.7,870.1 116.3,867.4 117.4,865.4 C118.5,863.4 120.1,861.6 121.4,860.8 C122.7,860.0 124.1,861.0 125.3,860.8 C126.5,860.6 127.7,860.9 128.6,859.5 C129.5,858.1 129.8,855.7 130.6,852.3 C131.4,848.9 132.3,843.5 133.2,839.1 C134.1,834.7 134.9,830.1 135.8,826.0 C136.7,821.9 137.3,817.5 138.4,814.2 C139.5,810.9 141.1,808.5 142.4,806.3 C143.7,804.1 145.0,801.2 146.3,801.0 C147.6,800.8 149.2,803.7 150.3,805.0 C151.4,806.3 152.2,807.9 153.1,809.0 C154.0,810.1 154.4,811.2 155.5,811.5 C156.6,811.8 158.0,811.1 159.5,810.5 C161.0,809.9 163.3,808.2 164.7,807.6 C166.1,807.0 166.7,805.9 168.0,807.0 C169.3,808.1 171.1,812.2 172.8,814.1 C174.5,816.0 176.3,817.8 178.3,818.5 C180.3,819.2 183.1,817.0 184.9,818.5 C186.7,820.0 187.9,823.9 189.3,827.2 C190.8,830.5 192.2,835.3 193.6,838.2 C195.0,841.1 196.3,844.7 198.0,844.7 C199.7,844.7 201.7,841.1 203.5,838.2 C205.3,835.3 207.2,830.9 209.0,827.2 C210.8,823.6 212.8,818.7 214.4,816.3 C216.0,813.9 217.5,812.6 218.8,813.0 C220.1,813.4 221.0,815.0 222.1,818.5 C223.2,822.0 224.3,828.3 225.4,833.8 C226.5,839.3 227.6,845.5 228.7,851.3 C229.8,857.1 230.7,863.0 232.0,868.8 C233.3,874.6 234.9,880.8 236.3,886.3 C237.8,891.8 239.2,897.3 240.7,901.7 C242.2,906.1 243.6,908.6 245.1,912.6 C246.6,916.6 248.3,921.6 249.5,925.8 C250.7,930.0 251.6,933.2 252.5,938.0 C253.4,942.8 254.4,948.3 255.2,954.7 C256.0,961.1 256.7,969.7 257.4,976.6 C258.1,983.5 258.7,990.1 259.6,996.3 C260.5,1002.5 261.4,1010.1 262.8,1013.9 C264.2,1017.7 266.1,1018.9 268.3,1019.3 C270.5,1019.6 273.6,1016.0 276.0,1016.0 C278.4,1016.0 280.1,1018.0 282.6,1019.3 C285.2,1020.6 288.4,1023.3 291.3,1023.7 C294.2,1024.1 297.2,1023.0 300.1,1021.5 C303.0,1020.0 306.2,1017.7 308.8,1015.0 C311.4,1012.3 313.6,1008.9 315.4,1005.1 C317.2,1001.3 318.3,996.4 319.8,992.0 C321.3,987.6 322.8,983.5 324.2,978.8 C325.6,974.0 327.1,967.9 328.5,963.5 C329.9,959.1 331.4,954.8 332.9,952.6 C334.4,950.4 335.8,949.0 337.3,950.4 C338.8,951.8 340.2,956.9 341.7,961.3 C343.1,965.7 344.4,972.6 346.0,976.6 C347.6,980.6 349.7,982.5 351.5,985.4 C353.3,988.3 355.0,990.6 357.0,994.2 C359.0,997.9 361.4,1002.9 363.6,1007.3 C365.8,1011.7 367.9,1016.5 370.0,1020.5 C372.1,1024.5 374.3,1028.0 376.5,1031.5 C378.7,1035.0 380.7,1038.0 383.1,1041.4 C385.6,1044.8 388.4,1048.8 391.2,1051.9 C394.0,1055.0 397.2,1057.7 400.0,1060.0 C402.8,1062.3 405.2,1064.1 408.0,1066.0 C410.8,1067.9 412.8,1069.2 416.9,1071.5 C420.9,1073.8 426.4,1077.4 432.3,1079.5 C438.2,1081.6 445.1,1083.0 452.0,1084.2 C458.9,1085.5 466.6,1086.3 473.9,1087.0 C481.2,1087.7 489.8,1088.0 495.8,1088.3 C501.8,1088.6 499.3,1088.6 510.0,1089.0 C520.7,1089.4 543.3,1089.9 560.0,1090.5 C576.7,1091.1 593.2,1091.9 610.0,1092.5 C626.8,1093.1 652.5,1093.8 661.0,1094.0" stroke="#22f4f8" stroke-width="3.6"/>
<path d="M81.9,927.4 C82.7,927.0 85.3,926.2 86.8,925.2 C88.3,924.2 89.6,923.5 91.1,921.7 C92.5,920.0 94.2,917.2 95.5,914.7 C96.8,912.2 97.8,909.4 99.0,906.8 C100.2,904.2 101.3,901.4 102.5,898.9 C103.7,896.4 104.8,893.9 106.0,891.9 C107.2,889.9 108.2,888.1 109.5,886.6 C110.8,885.1 112.4,883.4 113.9,883.1 C115.4,882.8 117.0,884.4 118.3,884.9 C119.6,885.4 120.6,886.5 121.8,886.2 C123.0,885.9 124.3,884.6 125.3,883.1 C126.3,881.6 127.0,879.9 127.9,877.0 C128.8,874.1 129.6,870.8 130.5,866.0 C131.4,861.2 132.2,853.9 133.2,848.3 C134.2,842.7 135.4,837.4 136.5,832.6 C137.6,827.8 138.6,823.8 139.8,819.4 C141.0,815.0 142.4,810.4 143.7,806.3 C145.0,802.1 146.3,797.6 147.6,794.5 C148.9,791.4 150.3,788.8 151.6,787.5 C152.9,786.2 154.2,786.4 155.5,787.0 C156.8,787.6 158.2,788.3 159.6,791.0 C161.0,793.7 162.6,799.2 164.1,803.1 C165.6,807.0 167.1,811.4 168.5,814.1 C169.9,816.9 171.4,819.6 172.8,819.6 C174.2,819.6 175.7,816.9 177.2,814.1 C178.7,811.4 180.1,806.0 181.6,803.1 C183.1,800.2 184.5,797.3 186.0,796.6 C187.5,795.9 189.0,796.2 190.4,798.8 C191.8,801.3 193.2,807.5 194.7,811.9 C196.1,816.3 197.3,820.2 199.1,825.0 C200.9,829.8 203.5,834.9 205.7,840.4 C207.9,845.9 210.1,851.7 212.3,857.9 C214.5,864.1 216.6,871.0 218.8,877.6 C221.0,884.2 223.5,891.9 225.4,897.3 C227.3,902.7 228.4,905.8 230.0,910.2 C231.6,914.7 233.3,919.5 235.0,924.0 C236.7,928.5 238.5,933.1 240.1,937.1 C241.7,941.1 243.1,944.6 244.5,948.0 C245.9,951.4 247.2,954.4 248.5,957.2 C249.8,960.0 250.9,962.8 252.0,965.0 C253.1,967.2 254.1,969.8 255.2,970.5 C256.3,971.2 257.4,970.1 258.5,969.0 C259.6,967.9 260.8,966.6 261.9,963.9 C263.0,961.2 263.9,957.5 265.0,953.0 C266.1,948.5 267.4,942.9 268.6,937.1 C269.8,931.3 271.1,923.5 272.0,918.0 C272.9,912.5 273.5,909.2 274.3,904.0 C275.1,898.8 275.7,894.2 276.6,887.0 C277.5,879.8 278.8,868.7 279.9,860.7 C281.0,852.7 282.0,845.4 283.1,838.8 C284.2,832.2 285.3,826.8 286.4,821.3 C287.5,815.8 288.6,810.0 289.7,806.0 C290.8,802.0 291.9,798.7 293.0,797.2 C294.1,795.7 295.0,795.3 296.3,796.8 C297.6,798.3 299.2,801.9 300.7,806.0 C302.1,810.1 303.6,815.8 305.0,821.3 C306.4,826.8 307.8,832.3 309.0,838.8 C310.2,845.2 310.9,853.5 312.2,860.0 C313.5,866.5 315.0,872.1 316.7,878.1 C318.4,884.1 320.4,890.2 322.2,896.3 C324.0,902.3 326.0,908.4 327.6,914.4 C329.2,920.4 330.7,926.5 332.1,932.5 C333.5,938.5 334.6,944.7 335.8,950.7 C337.0,956.8 338.0,963.1 339.4,968.8 C340.8,974.5 342.2,979.6 343.9,985.0 C345.6,990.4 347.6,996.1 349.5,1001.0 C351.4,1005.9 353.4,1010.3 355.5,1014.5 C357.6,1018.7 359.7,1022.2 362.0,1026.0 C364.3,1029.8 367.1,1034.1 369.4,1037.5 C371.6,1040.9 373.3,1043.5 375.5,1046.3 C377.7,1049.1 379.6,1051.4 382.5,1054.2 C385.4,1057.0 388.9,1060.2 392.8,1062.9 C396.7,1065.6 401.2,1068.2 406.0,1070.6 C410.8,1073.0 415.8,1075.3 421.3,1077.1 C426.8,1078.9 432.2,1080.0 438.8,1081.5 C445.4,1083.0 453.4,1084.7 460.7,1085.9 C468.0,1087.1 474.4,1088.0 482.6,1088.7 C490.8,1089.4 495.6,1089.5 510.0,1090.3 C524.4,1091.1 543.6,1092.6 568.8,1093.3 C594.0,1094.0 645.6,1094.5 661.0,1094.7" stroke="#ff00ff" stroke-width="4.0"/>
</g>
<rect x="508.4" y="633.0" width="149.0" height="183.3" fill="#fff" stroke="#808080" stroke-width="1.2"/>
<line x1="511.0" y1="649.7" x2="567.0" y2="649.7" stroke="#ff0000" stroke-width="4.0" stroke-linecap="round"/>
<text x="571.0" y="658.0" class="lg">LiGeSe<tspan class="sub" dy="6">3</tspan></text>
<line x1="511.0" y1="685.9" x2="567.0" y2="685.9" stroke="#00f000" stroke-width="4.0" stroke-linecap="round"/>
<text x="576.0" y="694.2" class="lg">NaGeSe<tspan class="sub" dy="6">3</tspan></text>
<line x1="511.0" y1="722.1" x2="567.0" y2="722.1" stroke="#0000ff" stroke-width="4.0" stroke-linecap="round"/>
<text x="571.0" y="730.4" class="lg">KGeSe<tspan class="sub" dy="6">3</tspan></text>
<line x1="511.0" y1="758.3" x2="567.0" y2="758.3" stroke="#22f4f8" stroke-width="3.6" stroke-linecap="round"/>
<text x="571.0" y="766.6" class="lg">RbGeSe<tspan class="sub" dy="6">3</tspan></text>
<line x1="511.0" y1="794.5" x2="567.0" y2="794.5" stroke="#ff00ff" stroke-width="4.0" stroke-linecap="round"/>
<text x="571.0" y="802.8" class="lg">CsGeSe<tspan class="sub" dy="6">3</tspan></text>
<text x="82.0" y="1124.8" class="tk" text-anchor="middle">0</text>
<text x="139.9" y="1124.8" class="tk" text-anchor="middle">5</text>
<text x="197.8" y="1124.8" class="tk" text-anchor="middle">10</text>
<text x="255.7" y="1124.8" class="tk" text-anchor="middle">15</text>
<text x="313.6" y="1124.8" class="tk" text-anchor="middle">20</text>
<text x="371.4" y="1124.8" class="tk" text-anchor="middle">25</text>
<text x="429.3" y="1124.8" class="tk" text-anchor="middle">30</text>
<text x="487.2" y="1124.8" class="tk" text-anchor="middle">35</text>
<text x="545.1" y="1124.8" class="tk" text-anchor="middle">40</text>
<text x="603.0" y="1124.8" class="tk" text-anchor="middle">45</text>
<text x="660.9" y="1124.8" class="tk" text-anchor="middle">50</text>
<text x="70.5" y="1103.3" class="tk" text-anchor="end">0.0</text>
<text x="70.5" y="1009.9" class="tk" text-anchor="end">0.1</text>
<text x="70.5" y="916.5" class="tk" text-anchor="end">0.2</text>
<text x="70.5" y="823.0" class="tk" text-anchor="end">0.3</text>
<text x="70.5" y="729.6" class="tk" text-anchor="end">0.4</text>
<text x="70.5" y="636.2" class="tk" text-anchor="end">0.5</text>
<text x="377.8" y="1167.0" class="ti" text-anchor="middle">Energy (eV)</text>
<text class="rt" text-anchor="middle" transform="translate(27.0,855.0) rotate(-90)">R(&#969;)</text>
<text x="79.3" y="620.0" class="pl">(b)</text>
<rect x="88.9" y="1224.2" width="579.9" height="467.2" fill="none" stroke="#000" stroke-width="3.8"/>
<line x1="117.9" y1="1691.4" x2="117.9" y2="1687.2" stroke="#000" stroke-width="3.7"/>
<line x1="146.9" y1="1691.4" x2="146.9" y2="1682.8" stroke="#000" stroke-width="3.7"/>
<line x1="175.9" y1="1691.4" x2="175.9" y2="1687.2" stroke="#000" stroke-width="3.7"/>
<line x1="204.9" y1="1691.4" x2="204.9" y2="1682.8" stroke="#000" stroke-width="3.7"/>
<line x1="233.9" y1="1691.4" x2="233.9" y2="1687.2" stroke="#000" stroke-width="3.7"/>
<line x1="262.9" y1="1691.4" x2="262.9" y2="1682.8" stroke="#000" stroke-width="3.7"/>
<line x1="291.9" y1="1691.4" x2="291.9" y2="1687.2" stroke="#000" stroke-width="3.7"/>
<line x1="320.9" y1="1691.4" x2="320.9" y2="1682.8" stroke="#000" stroke-width="3.7"/>
<line x1="349.9" y1="1691.4" x2="349.9" y2="1687.2" stroke="#000" stroke-width="3.7"/>
<line x1="378.9" y1="1691.4" x2="378.9" y2="1682.8" stroke="#000" stroke-width="3.7"/>
<line x1="407.8" y1="1691.4" x2="407.8" y2="1687.2" stroke="#000" stroke-width="3.7"/>
<line x1="436.8" y1="1691.4" x2="436.8" y2="1682.8" stroke="#000" stroke-width="3.7"/>
<line x1="465.8" y1="1691.4" x2="465.8" y2="1687.2" stroke="#000" stroke-width="3.7"/>
<line x1="494.8" y1="1691.4" x2="494.8" y2="1682.8" stroke="#000" stroke-width="3.7"/>
<line x1="523.8" y1="1691.4" x2="523.8" y2="1687.2" stroke="#000" stroke-width="3.7"/>
<line x1="552.8" y1="1691.4" x2="552.8" y2="1682.8" stroke="#000" stroke-width="3.7"/>
<line x1="581.8" y1="1691.4" x2="581.8" y2="1687.2" stroke="#000" stroke-width="3.7"/>
<line x1="610.8" y1="1691.4" x2="610.8" y2="1682.8" stroke="#000" stroke-width="3.7"/>
<line x1="639.8" y1="1691.4" x2="639.8" y2="1687.2" stroke="#000" stroke-width="3.7"/>
<line x1="88.9" y1="1644.7" x2="93.1" y2="1644.7" stroke="#000" stroke-width="3.7"/>
<line x1="88.9" y1="1598.0" x2="97.5" y2="1598.0" stroke="#000" stroke-width="3.7"/>
<line x1="88.9" y1="1551.2" x2="93.1" y2="1551.2" stroke="#000" stroke-width="3.7"/>
<line x1="88.9" y1="1504.5" x2="97.5" y2="1504.5" stroke="#000" stroke-width="3.7"/>
<line x1="88.9" y1="1457.8" x2="93.1" y2="1457.8" stroke="#000" stroke-width="3.7"/>
<line x1="88.9" y1="1411.1" x2="97.5" y2="1411.1" stroke="#000" stroke-width="3.7"/>
<line x1="88.9" y1="1364.4" x2="93.1" y2="1364.4" stroke="#000" stroke-width="3.7"/>
<line x1="88.9" y1="1317.6" x2="97.5" y2="1317.6" stroke="#000" stroke-width="3.7"/>
<line x1="88.9" y1="1270.9" x2="93.1" y2="1270.9" stroke="#000" stroke-width="3.7"/>
<clipPath id="clipc"><rect x="86.9" y="1224.2" width="583.9" height="468.7"/></clipPath>
<g clip-path="url(#clipc)" fill="none" stroke-linejoin="round" stroke-linecap="round">
<path d="M89.4,1505.8 C90.1,1505.6 92.3,1505.4 93.8,1504.4 C95.2,1503.4 96.7,1502.2 98.1,1500.0 C99.5,1497.8 100.7,1494.6 102.0,1491.5 C103.3,1488.4 104.7,1484.5 106.0,1481.2 C107.3,1478.0 108.7,1474.8 110.0,1472.0 C111.3,1469.2 112.4,1466.5 113.9,1464.1 C115.4,1461.7 117.7,1459.4 119.2,1457.5 C120.7,1455.6 121.8,1454.9 123.1,1452.9 C124.4,1450.9 125.7,1448.4 127.0,1445.7 C128.3,1443.0 129.7,1439.3 131.0,1436.5 C132.3,1433.7 133.6,1430.7 134.9,1428.6 C136.2,1426.5 137.6,1425.1 138.9,1424.0 C140.2,1422.9 141.5,1423.0 142.8,1422.0 C144.1,1421.0 145.7,1419.9 146.8,1418.1 C147.9,1416.3 148.7,1413.6 149.6,1411.0 C150.5,1408.4 151.2,1405.5 152.0,1402.3 C152.8,1399.1 153.7,1395.0 154.6,1392.0 C155.5,1389.0 156.4,1386.4 157.3,1384.0 C158.2,1381.6 159.1,1380.2 160.0,1377.5 C160.9,1374.8 161.6,1371.3 162.5,1368.0 C163.4,1364.7 164.4,1360.6 165.3,1357.6 C166.2,1354.6 167.1,1352.0 168.0,1350.0 C168.9,1348.0 169.2,1346.7 170.6,1345.3 C171.9,1343.9 174.1,1342.2 176.1,1341.5 C178.1,1340.8 180.5,1340.8 182.7,1341.0 C184.9,1341.2 187.3,1343.2 189.3,1342.8 C191.3,1342.4 193.1,1341.6 194.7,1338.8 C196.3,1336.0 197.6,1330.1 199.1,1325.7 C200.6,1321.3 202.0,1315.8 203.5,1312.6 C205.0,1309.4 206.8,1306.6 208.3,1306.4 C209.8,1306.2 210.9,1309.0 212.3,1311.5 C213.7,1314.0 215.2,1319.3 216.6,1321.3 C218.0,1323.3 219.3,1324.4 221.0,1323.5 C222.7,1322.6 224.8,1317.7 226.5,1315.8 C228.2,1313.9 229.9,1312.1 231.5,1311.9 C233.1,1311.7 234.6,1313.5 236.3,1314.7 C238.0,1315.9 239.8,1318.3 241.8,1319.1 C243.8,1319.9 246.4,1319.0 248.4,1319.6 C250.4,1320.1 252.1,1321.0 253.9,1322.4 C255.7,1323.8 257.5,1325.7 259.3,1327.9 C261.1,1330.1 262.8,1333.0 264.8,1335.5 C266.8,1338.0 269.6,1340.5 271.4,1343.2 C273.2,1346.0 274.4,1348.3 275.8,1352.0 C277.2,1355.7 278.6,1359.7 280.0,1365.2 C281.4,1370.7 282.9,1378.2 284.3,1385.0 C285.8,1391.8 287.2,1398.7 288.7,1406.0 C290.1,1413.3 291.4,1422.1 293.0,1428.8 C294.6,1435.5 296.9,1440.1 298.5,1446.3 C300.1,1452.5 301.4,1459.0 302.8,1466.0 C304.2,1473.0 305.5,1481.1 306.9,1488.0 C308.3,1494.9 309.4,1500.6 311.0,1507.5 C312.6,1514.4 314.7,1522.1 316.5,1529.4 C318.3,1536.7 320.6,1545.5 322.0,1551.3 C323.4,1557.1 324.0,1559.5 325.0,1564.0 C326.0,1568.5 326.9,1573.8 328.0,1578.0 C329.1,1582.2 330.3,1585.6 331.7,1589.3 C333.1,1593.0 334.8,1596.4 336.4,1599.9 C337.9,1603.4 339.2,1606.7 341.0,1610.4 C342.8,1614.1 344.8,1618.3 346.9,1622.0 C349.0,1625.7 351.4,1629.3 353.9,1632.6 C356.4,1635.9 359.3,1639.2 362.0,1641.9 C364.7,1644.6 367.5,1646.8 370.2,1648.9 C372.9,1651.0 375.3,1652.5 378.4,1654.7 C381.5,1656.9 384.9,1660.0 388.8,1662.3 C392.7,1664.6 397.3,1666.7 401.9,1668.4 C406.5,1670.2 411.6,1671.5 416.5,1672.8 C421.4,1674.1 426.2,1675.3 431.1,1676.4 C436.0,1677.5 440.8,1678.5 445.7,1679.3 C450.6,1680.1 454.6,1680.8 460.3,1681.5 C466.0,1682.2 470.4,1682.8 480.0,1683.7 C489.6,1684.6 502.6,1686.0 517.6,1686.8 C532.6,1687.6 544.8,1687.9 570.0,1688.5 C595.2,1689.1 652.5,1690.0 669.0,1690.3" stroke="#ff0000" stroke-width="4.0"/>
<path d="M89.4,1518.9 C90.1,1518.6 92.3,1518.0 93.8,1517.1 C95.2,1516.2 96.6,1515.2 98.1,1513.6 C99.5,1512.0 101.2,1510.1 102.5,1507.5 C103.8,1504.9 104.8,1501.6 106.0,1498.0 C107.2,1494.4 108.7,1490.4 110.0,1486.0 C111.3,1481.6 112.4,1475.4 113.9,1471.5 C115.4,1467.6 117.5,1464.9 119.2,1462.8 C121.0,1460.7 122.9,1460.1 124.4,1458.8 C125.9,1457.5 127.1,1456.7 128.4,1454.9 C129.7,1453.2 131.0,1450.7 132.3,1448.3 C133.6,1445.9 134.9,1442.8 136.2,1440.4 C137.5,1438.0 138.9,1435.4 140.2,1433.9 C141.5,1432.4 142.6,1431.9 144.1,1431.2 C145.6,1430.5 147.8,1430.9 149.4,1429.9 C151.0,1428.9 152.3,1427.0 153.5,1425.0 C154.7,1423.0 155.6,1420.2 156.5,1418.0 C157.4,1415.8 158.3,1414.3 159.2,1411.5 C160.1,1408.7 161.0,1404.7 162.0,1401.0 C163.0,1397.3 164.1,1395.3 165.3,1389.5 C166.6,1383.7 168.1,1372.6 169.5,1366.0 C170.9,1359.4 172.0,1354.5 173.5,1350.0 C175.0,1345.5 176.8,1341.2 178.5,1338.8 C180.2,1336.4 182.4,1335.1 183.8,1335.5 C185.2,1335.9 185.8,1338.4 187.1,1341.0 C188.4,1343.6 190.1,1348.8 191.5,1350.9 C192.9,1353.0 194.4,1353.9 195.8,1353.7 C197.2,1353.5 198.5,1352.1 200.2,1349.8 C201.8,1347.5 203.9,1343.2 205.7,1339.9 C207.5,1336.6 209.2,1333.0 211.2,1330.1 C213.2,1327.2 215.7,1325.3 217.7,1322.4 C219.7,1319.5 221.4,1316.4 223.2,1312.6 C225.0,1308.8 226.9,1303.4 228.7,1299.4 C230.5,1295.4 232.5,1291.0 234.2,1288.5 C235.9,1286.0 237.4,1283.8 239.0,1284.5 C240.6,1285.2 242.2,1289.2 244.0,1292.8 C245.8,1296.4 247.7,1302.7 249.5,1306.0 C251.3,1309.3 253.2,1310.0 255.0,1312.6 C256.8,1315.1 258.8,1318.0 260.4,1321.3 C262.0,1324.6 263.3,1327.9 264.8,1332.3 C266.3,1336.7 267.7,1342.5 269.2,1347.6 C270.7,1352.7 272.2,1358.0 273.6,1362.9 C275.1,1367.8 276.7,1372.6 277.9,1377.0 C279.1,1381.4 279.8,1384.1 281.0,1389.4 C282.2,1394.8 283.9,1402.2 285.3,1409.1 C286.8,1416.0 288.2,1423.7 289.7,1431.0 C291.2,1438.3 292.6,1445.6 294.1,1452.9 C295.6,1460.2 297.1,1468.0 298.5,1474.8 C299.9,1481.6 301.1,1488.5 302.3,1494.0 C303.5,1499.5 304.2,1501.6 305.5,1507.5 C306.8,1513.4 308.4,1522.1 309.9,1529.4 C311.4,1536.7 312.8,1544.7 314.3,1551.3 C315.8,1557.9 317.4,1564.0 318.7,1568.8 C320.0,1573.6 320.9,1576.0 322.3,1580.0 C323.7,1584.0 325.4,1588.7 327.0,1592.8 C328.6,1596.9 329.9,1600.4 331.7,1604.5 C333.4,1608.6 335.4,1613.3 337.5,1617.4 C339.6,1621.5 342.0,1625.4 344.5,1629.1 C347.0,1632.8 350.0,1636.5 352.7,1639.6 C355.4,1642.7 358.0,1645.2 360.9,1647.7 C363.8,1650.2 367.2,1652.6 370.2,1654.7 C373.2,1656.8 375.9,1658.5 379.0,1660.5 C382.1,1662.5 385.0,1664.6 388.8,1666.5 C392.6,1668.4 397.3,1670.3 401.9,1672.0 C406.5,1673.7 411.6,1675.1 416.5,1676.4 C421.4,1677.8 426.2,1679.1 431.1,1680.1 C436.0,1681.1 440.8,1681.6 445.7,1682.3 C450.6,1683.0 454.6,1683.8 460.3,1684.5 C466.0,1685.2 470.4,1685.9 480.0,1686.6 C489.6,1687.3 500.9,1687.9 517.6,1688.5 C534.3,1689.1 554.8,1689.7 580.0,1690.0 C605.2,1690.3 654.2,1690.4 669.0,1690.5" stroke="#00f000" stroke-width="4.0"/>
<path d="M89.4,1550.4 C90.1,1550.1 92.3,1549.4 93.8,1548.7 C95.2,1548.0 96.6,1547.2 98.1,1546.0 C99.5,1544.8 101.0,1543.5 102.5,1541.7 C104.0,1540.0 105.6,1537.7 106.9,1535.5 C108.2,1533.3 109.4,1530.8 110.4,1528.5 C111.4,1526.2 112.1,1524.0 113.0,1521.5 C113.9,1519.0 114.7,1516.4 115.6,1513.6 C116.5,1510.8 117.4,1507.5 118.3,1504.9 C119.2,1502.3 119.7,1500.9 120.7,1498.0 C121.7,1495.1 123.1,1490.5 124.4,1487.7 C125.7,1484.9 127.1,1483.0 128.4,1481.2 C129.7,1479.5 130.8,1478.1 132.3,1477.2 C133.8,1476.3 135.8,1475.9 137.6,1475.9 C139.3,1475.9 141.3,1477.4 142.8,1477.2 C144.3,1477.0 145.7,1476.3 146.8,1474.6 C147.9,1472.8 148.5,1469.5 149.4,1466.7 C150.3,1463.9 151.1,1460.8 152.0,1457.5 C152.9,1454.2 153.7,1450.3 154.6,1447.0 C155.5,1443.7 156.2,1440.6 157.3,1437.8 C158.4,1435.0 159.9,1432.1 161.2,1429.9 C162.5,1427.7 163.5,1427.2 165.1,1424.7 C166.7,1422.2 169.0,1417.8 170.7,1414.7 C172.3,1411.6 173.7,1409.5 175.0,1406.0 C176.3,1402.5 176.8,1398.1 178.3,1394.0 C179.8,1389.9 181.8,1384.8 183.8,1381.5 C185.8,1378.2 188.4,1375.4 190.4,1373.9 C192.4,1372.5 194.0,1372.8 195.8,1372.8 C197.6,1372.8 199.3,1374.5 201.3,1373.9 C203.3,1373.4 205.7,1370.9 207.9,1369.5 C210.1,1368.1 212.2,1365.9 214.4,1365.5 C216.6,1365.1 218.8,1366.8 221.0,1367.3 C223.2,1367.8 225.6,1367.7 227.6,1368.4 C229.6,1369.1 231.5,1370.1 233.1,1371.7 C234.7,1373.3 235.9,1375.7 237.4,1378.2 C238.9,1380.8 240.5,1384.0 241.8,1387.0 C243.2,1390.0 244.2,1392.0 245.5,1396.0 C246.8,1400.0 248.1,1404.6 249.5,1411.0 C250.9,1417.4 252.5,1426.9 253.9,1434.4 C255.3,1442.0 256.8,1449.7 258.2,1456.3 C259.6,1462.9 261.2,1468.2 262.6,1473.8 C264.0,1479.4 265.3,1484.8 266.5,1490.0 C267.7,1495.2 268.8,1499.9 270.0,1505.0 C271.2,1510.1 272.6,1514.8 273.8,1520.7 C275.0,1526.6 276.0,1534.2 277.1,1540.4 C278.2,1546.6 279.1,1552.4 280.4,1557.9 C281.7,1563.4 283.2,1568.5 284.7,1573.2 C286.1,1577.9 287.5,1581.9 289.1,1586.3 C290.7,1590.7 293.0,1594.7 294.4,1599.4 C295.8,1604.1 296.6,1610.0 297.7,1614.7 C298.8,1619.5 299.6,1623.9 300.9,1627.9 C302.2,1631.9 303.5,1635.5 305.3,1638.8 C307.1,1642.1 309.3,1645.4 311.9,1647.6 C314.5,1649.8 318.2,1651.0 320.7,1652.0 C323.2,1653.0 324.8,1652.9 327.0,1653.6 C329.2,1654.2 331.9,1655.1 334.0,1655.9 C336.1,1656.7 337.7,1657.2 339.5,1658.5 C341.3,1659.8 342.7,1662.2 344.7,1664.0 C346.7,1665.8 349.1,1668.0 351.3,1669.5 C353.5,1671.0 355.3,1672.2 357.9,1672.8 C360.4,1673.3 364.1,1673.2 366.6,1672.8 C369.2,1672.4 371.0,1671.1 373.2,1670.6 C375.4,1670.1 377.4,1670.3 380.0,1669.9 C382.6,1669.5 385.6,1669.0 388.8,1668.4 C392.0,1667.8 395.6,1666.6 399.0,1666.2 C402.4,1665.8 405.6,1666.0 409.2,1666.2 C412.8,1666.5 417.2,1667.3 420.9,1667.7 C424.5,1668.1 427.7,1667.8 431.1,1668.4 C434.5,1669.0 437.7,1670.3 441.3,1671.3 C444.9,1672.3 448.6,1673.2 453.0,1674.2 C457.4,1675.2 463.1,1676.4 467.6,1677.2 C472.1,1678.0 474.6,1678.5 480.0,1679.3 C485.4,1680.1 490.8,1681.4 500.0,1682.2 C509.2,1683.0 526.2,1684.0 535.0,1684.3 C543.8,1684.6 546.7,1684.0 552.6,1684.3 C558.5,1684.6 561.4,1685.5 570.2,1686.1 C579.0,1686.7 593.5,1687.3 605.2,1687.8 C616.9,1688.3 629.6,1688.6 640.2,1688.9 C650.8,1689.2 664.2,1689.5 669.0,1689.6" stroke="#0000ff" stroke-width="4.0"/>
<path d="M89.4,1553.9 C90.1,1553.6 92.3,1552.9 93.8,1552.2 C95.2,1551.5 96.6,1550.6 98.1,1549.5 C99.5,1548.4 101.0,1547.2 102.5,1545.5 C104.0,1543.8 105.5,1541.8 106.9,1539.5 C108.3,1537.2 109.7,1534.6 110.8,1532.0 C111.9,1529.4 112.8,1526.7 113.8,1524.0 C114.8,1521.3 115.6,1518.7 116.5,1516.0 C117.4,1513.3 118.2,1510.7 119.0,1508.0 C119.8,1505.3 120.6,1502.8 121.5,1500.0 C122.4,1497.2 123.3,1494.2 124.5,1491.5 C125.7,1488.8 127.2,1486.0 128.5,1484.0 C129.8,1482.0 131.2,1480.5 132.5,1479.5 C133.8,1478.5 135.2,1478.4 136.5,1478.0 C137.8,1477.6 138.9,1477.8 140.2,1477.2 C141.5,1476.6 142.8,1476.8 144.1,1474.6 C145.4,1472.4 147.0,1467.6 148.1,1464.1 C149.2,1460.6 149.8,1457.3 150.7,1453.6 C151.6,1449.9 152.3,1445.5 153.3,1441.8 C154.3,1438.1 155.4,1434.9 156.6,1431.2 C157.8,1427.5 159.0,1422.4 160.5,1419.4 C162.0,1416.4 163.8,1414.9 165.5,1413.0 C167.2,1411.1 168.8,1410.1 170.5,1408.0 C172.2,1405.9 174.2,1403.1 176.0,1400.5 C177.8,1397.9 179.9,1394.3 181.6,1392.5 C183.3,1390.7 184.3,1389.2 186.0,1389.6 C187.7,1390.0 189.7,1392.6 191.5,1394.7 C193.3,1396.8 195.6,1400.4 196.9,1402.3 C198.2,1404.2 197.8,1404.4 199.1,1405.9 C200.4,1407.4 202.8,1411.4 204.6,1411.4 C206.4,1411.4 208.3,1408.1 210.1,1406.0 C211.9,1403.9 213.7,1400.5 215.5,1399.0 C217.3,1397.5 219.3,1396.4 221.0,1396.9 C222.7,1397.5 223.9,1399.0 225.4,1402.3 C226.9,1405.6 228.5,1411.6 229.8,1416.9 C231.1,1422.2 232.0,1428.6 233.1,1434.4 C234.2,1440.2 235.0,1445.7 236.3,1451.9 C237.6,1458.1 239.2,1465.0 240.7,1471.6 C242.2,1478.2 243.6,1485.2 245.1,1491.3 C246.6,1497.4 248.1,1502.4 249.6,1508.0 C251.1,1513.6 252.8,1519.2 254.1,1525.0 C255.4,1530.8 256.3,1536.4 257.4,1542.6 C258.5,1548.8 259.6,1555.7 260.7,1562.3 C261.8,1568.9 262.8,1575.4 263.9,1582.0 C265.0,1588.6 265.9,1595.5 267.2,1601.7 C268.5,1607.9 269.8,1615.4 271.6,1619.2 C273.4,1623.0 276.0,1624.5 278.2,1624.7 C280.4,1624.9 282.5,1621.4 284.7,1620.3 C286.9,1619.2 288.9,1617.9 291.3,1618.1 C293.7,1618.3 296.6,1620.6 298.8,1621.3 C301.0,1622.0 302.6,1622.5 304.4,1622.5 C306.2,1622.5 307.7,1622.2 309.7,1621.3 C311.7,1620.4 314.6,1618.3 316.3,1616.9 C318.0,1615.5 318.6,1615.0 320.0,1612.7 C321.4,1610.5 323.3,1606.5 324.7,1603.4 C326.1,1600.3 327.0,1597.3 328.2,1594.0 C329.4,1590.7 330.6,1587.2 331.7,1583.5 C332.8,1579.8 334.0,1575.0 335.0,1572.0 C336.0,1569.0 336.4,1565.7 337.5,1565.5 C338.6,1565.3 339.9,1567.9 341.5,1571.0 C343.1,1574.1 344.9,1580.4 346.9,1584.1 C348.9,1587.8 350.8,1590.2 353.5,1593.0 C356.2,1595.8 360.4,1598.1 363.2,1601.0 C366.0,1603.9 368.0,1607.3 370.2,1610.4 C372.4,1613.5 374.4,1616.6 376.1,1619.7 C377.9,1622.8 378.9,1626.0 380.7,1629.1 C382.4,1632.2 384.5,1635.5 386.6,1638.4 C388.8,1641.3 390.8,1643.4 393.6,1646.6 C396.4,1649.8 400.1,1654.5 403.4,1657.5 C406.7,1660.5 410.2,1662.6 413.6,1664.7 C417.0,1666.8 420.2,1668.3 423.8,1669.9 C427.4,1671.5 431.1,1672.9 435.5,1674.2 C439.9,1675.5 445.2,1676.9 450.1,1677.9 C455.0,1678.9 459.7,1679.5 464.7,1680.1 C469.7,1680.7 474.1,1681.0 480.0,1681.5 C485.9,1682.0 490.8,1682.3 500.0,1682.8 C509.2,1683.3 523.3,1683.9 535.0,1684.5 C546.7,1685.1 558.5,1685.8 570.2,1686.3 C581.9,1686.8 593.6,1687.4 605.2,1687.8 C616.8,1688.2 629.4,1688.5 640.0,1688.8 C650.6,1689.1 664.2,1689.5 669.0,1689.6" stroke="#22f4f8" stroke-width="3.6"/>
<path d="M89.4,1557.0 C90.1,1556.8 92.3,1556.6 93.8,1556.1 C95.2,1555.6 96.6,1554.9 98.1,1553.9 C99.5,1553.0 101.0,1552.0 102.5,1550.4 C104.0,1548.8 105.4,1546.6 106.9,1544.3 C108.4,1542.0 110.0,1539.0 111.3,1536.4 C112.6,1533.8 113.8,1531.1 114.8,1528.5 C115.8,1525.9 116.5,1523.4 117.4,1520.6 C118.3,1517.8 119.2,1514.6 120.0,1511.9 C120.8,1509.2 121.3,1507.6 122.2,1504.5 C123.1,1501.4 124.2,1497.0 125.5,1493.5 C126.8,1490.0 128.3,1486.6 129.7,1483.8 C131.0,1481.0 132.3,1478.1 133.6,1476.6 C134.9,1475.1 136.5,1475.5 137.6,1474.6 C138.7,1473.7 139.3,1472.8 140.2,1471.0 C141.1,1469.2 141.9,1467.0 142.8,1464.1 C143.7,1461.2 144.5,1457.5 145.4,1453.6 C146.3,1449.6 147.2,1444.6 148.1,1440.4 C149.0,1436.2 149.8,1432.1 150.7,1428.6 C151.6,1425.1 152.3,1422.2 153.3,1419.4 C154.3,1416.6 155.6,1413.2 156.6,1411.5 C157.6,1409.8 158.3,1409.6 159.5,1409.5 C160.7,1409.4 162.4,1410.1 163.8,1410.9 C165.2,1411.7 166.7,1413.3 167.8,1414.2 C169.0,1415.1 169.5,1416.2 170.7,1416.5 C171.9,1416.8 173.4,1416.3 175.0,1416.0 C176.6,1415.7 178.7,1414.2 180.5,1414.7 C182.3,1415.2 184.2,1416.5 186.0,1419.1 C187.8,1421.6 189.7,1427.1 191.5,1430.0 C193.3,1432.9 194.9,1435.5 196.9,1436.6 C198.9,1437.7 201.3,1436.8 203.5,1436.6 C205.7,1436.4 207.9,1434.8 210.1,1435.5 C212.3,1436.2 214.8,1438.6 216.6,1441.0 C218.4,1443.4 219.5,1446.0 221.0,1449.7 C222.5,1453.4 224.1,1458.2 225.4,1462.9 C226.7,1467.7 227.8,1472.7 228.7,1478.2 C229.6,1483.7 230.2,1489.9 230.9,1495.7 C231.6,1501.5 232.4,1507.2 233.1,1513.2 C233.8,1519.2 234.4,1525.7 235.3,1532.0 C236.2,1538.3 237.5,1546.8 238.8,1551.3 C240.1,1555.8 241.7,1558.6 243.1,1559.0 C244.5,1559.4 246.0,1556.2 247.5,1553.5 C249.0,1550.8 250.3,1546.1 251.9,1542.6 C253.5,1539.1 255.2,1534.9 257.0,1532.7 C258.8,1530.5 261.1,1529.4 262.8,1529.4 C264.5,1529.4 265.7,1531.8 267.2,1532.7 C268.7,1533.6 270.1,1535.5 271.6,1534.9 C273.1,1534.4 274.4,1532.5 276.0,1529.4 C277.6,1526.3 279.9,1520.7 281.5,1516.3 C283.1,1511.9 284.4,1508.0 285.8,1503.1 C287.2,1498.2 288.3,1492.1 289.7,1487.0 C291.1,1481.9 292.6,1477.2 294.1,1472.6 C295.6,1468.0 297.1,1463.3 298.5,1459.5 C299.9,1455.7 301.4,1451.4 302.8,1449.6 C304.2,1447.8 305.7,1447.2 307.2,1448.5 C308.7,1449.8 310.3,1453.6 311.6,1457.3 C312.9,1461.0 313.8,1466.0 314.9,1470.4 C316.0,1474.8 317.1,1479.2 318.2,1483.6 C319.3,1488.0 320.5,1493.0 321.5,1497.0 C322.5,1501.0 323.0,1502.8 324.2,1507.5 C325.4,1512.2 327.1,1519.2 328.5,1525.0 C329.9,1530.8 331.2,1536.4 332.9,1542.6 C334.5,1548.8 336.8,1556.5 338.4,1562.3 C340.0,1568.1 341.4,1572.6 342.8,1577.5 C344.2,1582.4 345.5,1587.4 346.9,1591.7 C348.2,1596.0 349.5,1599.7 350.9,1603.4 C352.2,1607.1 353.3,1610.4 355.0,1613.9 C356.7,1617.4 358.8,1621.3 360.9,1624.4 C363.0,1627.5 365.4,1629.9 367.9,1632.6 C370.4,1635.3 373.2,1638.0 376.1,1640.7 C379.0,1643.4 382.9,1646.5 385.4,1648.9 C387.9,1651.3 389.0,1653.1 391.0,1655.0 C393.0,1656.9 394.5,1658.5 397.5,1660.4 C400.5,1662.3 404.8,1664.4 409.2,1666.2 C413.6,1668.0 418.9,1669.7 423.8,1671.3 C428.7,1672.9 433.5,1674.5 438.4,1675.7 C443.3,1676.9 448.1,1677.6 453.0,1678.6 C457.9,1679.6 463.1,1680.7 467.6,1681.5 C472.1,1682.3 471.7,1682.7 480.0,1683.5 C488.3,1684.3 502.6,1685.6 517.6,1686.3 C532.6,1687.0 553.1,1687.3 570.2,1687.8 C587.3,1688.2 603.5,1688.6 620.0,1689.0 C636.5,1689.4 660.8,1689.8 669.0,1690.0" stroke="#ff00ff" stroke-width="4.0"/>
</g>
<rect x="517.0" y="1228.5" width="147.2" height="184.2" fill="#fff" stroke="#808080" stroke-width="1.2"/>
<line x1="520.0" y1="1245.5" x2="576.0" y2="1245.5" stroke="#ff0000" stroke-width="4.0" stroke-linecap="round"/>
<text x="579.7" y="1253.8" class="lg">LiSnSe<tspan class="sub" dy="6">3</tspan></text>
<line x1="520.0" y1="1281.8" x2="576.0" y2="1281.8" stroke="#00f000" stroke-width="4.0" stroke-linecap="round"/>
<text x="584.7" y="1290.0" class="lg">NaSnSe<tspan class="sub" dy="6">3</tspan></text>
<line x1="520.0" y1="1318.0" x2="576.0" y2="1318.0" stroke="#0000ff" stroke-width="4.0" stroke-linecap="round"/>
<text x="579.7" y="1326.3" class="lg">KSnSe<tspan class="sub" dy="6">3</tspan></text>
<line x1="520.0" y1="1354.2" x2="576.0" y2="1354.2" stroke="#22f4f8" stroke-width="3.6" stroke-linecap="round"/>
<text x="579.7" y="1362.5" class="lg">RbSnSe<tspan class="sub" dy="6">3</tspan></text>
<line x1="520.0" y1="1390.5" x2="576.0" y2="1390.5" stroke="#ff00ff" stroke-width="4.0" stroke-linecap="round"/>
<text x="579.7" y="1398.8" class="lg">CsSnSe<tspan class="sub" dy="6">3</tspan></text>
<text x="88.9" y="1720.2" class="tk" text-anchor="middle">0</text>
<text x="146.9" y="1720.2" class="tk" text-anchor="middle">5</text>
<text x="204.9" y="1720.2" class="tk" text-anchor="middle">10</text>
<text x="262.9" y="1720.2" class="tk" text-anchor="middle">15</text>
<text x="320.9" y="1720.2" class="tk" text-anchor="middle">20</text>
<text x="378.9" y="1720.2" class="tk" text-anchor="middle">25</text>
<text x="436.8" y="1720.2" class="tk" text-anchor="middle">30</text>
<text x="494.8" y="1720.2" class="tk" text-anchor="middle">35</text>
<text x="552.8" y="1720.2" class="tk" text-anchor="middle">40</text>
<text x="610.8" y="1720.2" class="tk" text-anchor="middle">45</text>
<text x="668.8" y="1720.2" class="tk" text-anchor="middle">50</text>
<text x="78.0" y="1698.7" class="tk" text-anchor="end">0.0</text>
<text x="78.0" y="1605.3" class="tk" text-anchor="end">0.1</text>
<text x="78.0" y="1511.8" class="tk" text-anchor="end">0.2</text>
<text x="78.0" y="1418.4" class="tk" text-anchor="end">0.3</text>
<text x="78.0" y="1324.9" class="tk" text-anchor="end">0.4</text>
<text x="78.0" y="1231.5" class="tk" text-anchor="end">0.5</text>
<text x="385.5" y="1756.5" class="ti" text-anchor="middle">Energy (eV)</text>
<text class="rt" text-anchor="middle" transform="translate(36.0,1454.4) rotate(-90)">R(&#969;)</text>
<text x="87.0" y="1216.0" class="pl">(c)</text>
</svg>
</body></html>
